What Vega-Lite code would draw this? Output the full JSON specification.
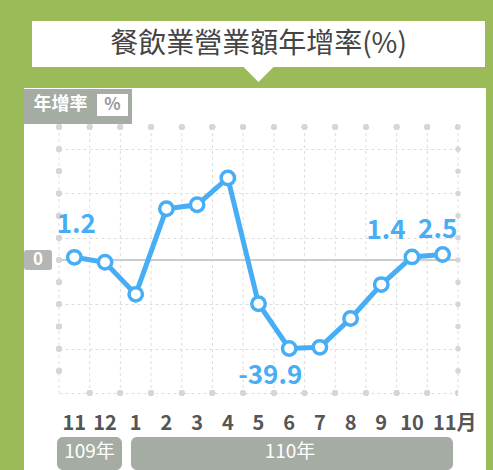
{
  "$schema": "https://vega.github.io/schema/vega-lite/v6.json",
  "background": "#9bbb59",
  "padding": {"left": 24, "top": 21, "right": 7, "bottom": 0},
  "config": {
    "view": {"stroke": null},
    "font": "Noto Sans CJK TC"
  },
  "datasets": {
    "months": [
      {"m": "109/11", "v": 1.2, "lbl": "11"},
      {"m": "109/12", "v": -1.0, "lbl": "12"},
      {"m": "110/01", "v": -15.5, "lbl": "1"},
      {"m": "110/02", "v": 23.1, "lbl": "2"},
      {"m": "110/03", "v": 24.9, "lbl": "3"},
      {"m": "110/04", "v": 37.0, "lbl": "4"},
      {"m": "110/05", "v": -19.7, "lbl": "5"},
      {"m": "110/06", "v": -39.9, "lbl": "6"},
      {"m": "110/07", "v": -39.4, "lbl": "7"},
      {"m": "110/08", "v": -26.4, "lbl": "8"},
      {"m": "110/09", "v": -11.1, "lbl": "9"},
      {"m": "110/10", "v": 1.4, "lbl": "10"},
      {"m": "110/11", "v": 2.5, "lbl": "11月"}
    ]
  },
  "spacing": 0,
  "vconcat": [
    {
      "spacing": 0,
      "hconcat": [
        {
          "width": 8, "height": 46,
          "data": {"values": [{}]},
          "mark": {"type": "point", "opacity": 0},
          "encoding": {}
        },
        {
          "width": 453, "height": 46,
          "view": {"fill": "white", "stroke": null},
          "data": {"values": [{"t": "餐飲業營業額年增率(%)"}]},
          "layer": [
            {
              "mark": {"type": "text", "fontSize": 28, "color": "#444444", "baseline": "middle", "align": "center", "yOffset": 1},
              "encoding": {"text": {"field": "t", "type": "nominal"}}
            },
            {
              "mark": {"type": "point", "shape": "M-1,0L1,0L0,1Z", "size": 900, "filled": true, "fill": "white", "stroke": null, "opacity": 1, "yOffset": 23},
              "encoding": {}
            }
          ]
        }
      ]
    },
    {
      "width": 462, "height": 6,
      "data": {"values": [{}]},
      "mark": {"type": "point", "opacity": 0},
      "encoding": {}
    },
    {
      "spacing": 0,
      "hconcat": [
        {
          "width": 73, "height": 36,
          "view": {"fill": "white", "stroke": null},
          "data": {"values": [{"t": "年增率"}]},
          "layer": [
            {"mark": {"type": "rect", "color": "#a4aca4", "yOffset": 1, "y2Offset": -6}, "encoding": {}},
            {"mark": {"type": "text", "fontSize": 18, "fontWeight": "bold", "color": "white", "baseline": "middle", "align": "center", "yOffset": -1}, "encoding": {"text": {"field": "t", "type": "nominal"}}}
          ]
        },
        {
          "width": 35, "height": 36,
          "view": {"fill": "white", "stroke": null},
          "data": {"values": [{"t": "%"}]},
          "layer": [
            {"mark": {"type": "rect", "color": "#a4aca4", "yOffset": 1, "y2Offset": -6}, "encoding": {}},
            {"mark": {"type": "point", "shape": "M-1,-0.71H1V0.71H-1Z", "size": 961, "filled": true, "fill": "white", "stroke": null, "opacity": 1, "xOffset": -2, "yOffset": -1}, "encoding": {}},
            {"mark": {"type": "text", "fontSize": 17, "fontWeight": "bold", "color": "#9a9a9a", "baseline": "middle", "align": "center", "xOffset": -2, "yOffset": -1}, "encoding": {"text": {"field": "t", "type": "nominal"}}}
          ]
        },
        {
          "width": 354, "height": 36,
          "view": {"fill": "white", "stroke": null},
          "data": {"values": [{}]},
          "mark": {"type": "point", "opacity": 0},
          "encoding": {}
        }
      ]
    },
    {
      "spacing": 0,
      "bounds": "flush",
      "hconcat": [
        {
          "width": 35, "height": 272,
          "view": {"fill": "white", "stroke": null},
          "data": {"values": [{"t": "0"}]},
          "layer": [
            {
              "mark": {"type": "point", "shape": "M-0.8,-0.714H0.8Q1,-0.714,1,-0.514V0.514Q1,0.714,0.8,0.714H-0.8Q-1,0.714,-1,0.514V-0.514Q-1,-0.714,-0.8,-0.714Z", "size": 784, "filled": true, "fill": "#b5b5b5", "stroke": null, "opacity": 1, "xOffset": -3.5},
              "encoding": {"y": {"datum": 0, "type": "quantitative", "scale": {"domain": [-60, 60], "nice": false, "zero": false, "padding": 3}, "axis": null}}
            },
            {
              "mark": {"type": "text", "fontSize": 17, "fontWeight": "bold", "color": "white", "baseline": "middle", "align": "center", "xOffset": -3.5},
              "encoding": {
                "y": {"datum": 0, "type": "quantitative", "axis": null},
                "text": {"field": "t", "type": "nominal"}
              }
            }
          ]
        },
        {
          "width": 399, "height": 272,
          "view": {"fill": "white", "stroke": null},
          "data": {"name": "months"},
          "layer": [
            {
              "mark": {"type": "rule", "color": "#dddddd", "strokeWidth": 1, "strokeDash": [3, 3]},
              "encoding": {
                "x": {
                  "field": "m", "type": "nominal", "sort": null, "bandPosition": 0,
                  "scale": {"type": "band", "domain": ["109/11","109/12","110/01","110/02","110/03","110/04","110/05","110/06","110/07","110/08","110/09","110/10","110/11"], "paddingInner": 0, "paddingOuter": 0},
                  "axis": null
                },
                "y": {"datum": 60, "type": "quantitative", "scale": {"domain": [-60, 60], "nice": false, "zero": false, "padding": 3}},
                "y2": {"datum": -60}
              }
            },
            {
              "mark": {"type": "rule", "color": "#cccccc", "strokeWidth": 2},
              "encoding": {"y": {"datum": 0, "type": "quantitative"}}
            },
            {
              "mark": {"type": "line", "color": "#47aef5", "strokeWidth": 5},
              "encoding": {
                "x": {"field": "m", "type": "nominal", "sort": null, "axis": null},
                "y": {
                  "field": "v", "type": "quantitative",
                  "axis": {"orient": "right", "title": null, "labels": false, "ticks": false, "grid": true,
                    "values": [-60, -50, -40, -30, -20, -10, 10, 20, 30, 40, 50, 60],
                    "gridColor": "#dddddd", "gridDash": [3, 3], "gridWidth": 1,
                    "domain": false, "minExtent": 0, "maxExtent": 0}
                }
              }
            },
            {
              "mark": {"type": "rule", "color": "#d6d6d6", "strokeWidth": 5.5, "strokeCap": "round", "strokeDash": [0.01, 30.69]},
              "encoding": {"y": {"datum": 60, "type": "quantitative"}}
            },
            {
              "mark": {"type": "rule", "color": "#d6d6d6", "strokeWidth": 5.5, "strokeCap": "round", "strokeDash": [0.01, 30.69]},
              "encoding": {"y": {"datum": -60, "type": "quantitative"}}
            },
            {
              "mark": {"type": "rule", "color": "#d6d6d6", "strokeWidth": 5.5, "strokeCap": "round", "strokeDash": [0.01, 22.16]},
              "encoding": {
                "x": {"datum": "109/11", "type": "nominal", "bandPosition": 0, "axis": null},
                "y": {"datum": 60, "type": "quantitative"},
                "y2": {"datum": -60}
              }
            },
            {
              "mark": {"type": "point", "filled": true, "fill": "white", "stroke": "#47aef5", "strokeWidth": 3.5, "size": 180, "opacity": 1},
              "encoding": {
                "x": {"field": "m", "type": "nominal", "sort": null, "axis": null},
                "y": {"field": "v", "type": "quantitative"}
              }
            },
            {
              "transform": [{"filter": "datum.m == '109/11'"}],
              "mark": {"type": "text", "fontSize": 26, "fontWeight": "bold", "color": "#47aef5", "baseline": "middle", "dx": 2, "dy": -32},
              "encoding": {
                "x": {"field": "m", "type": "nominal", "sort": null, "axis": null},
                "y": {"field": "v", "type": "quantitative"},
                "text": {"field": "v", "type": "nominal"}
              }
            },
            {
              "transform": [{"filter": "datum.m == '110/11'"}],
              "mark": {"type": "text", "fontSize": 26, "fontWeight": "bold", "color": "#47aef5", "baseline": "middle", "dx": -5, "dy": -24},
              "encoding": {
                "x": {"field": "m", "type": "nominal", "sort": null, "axis": null},
                "y": {"field": "v", "type": "quantitative"},
                "text": {"field": "v", "type": "nominal"}
              }
            },
            {
              "transform": [{"filter": "datum.m == '110/10'"}],
              "mark": {"type": "text", "fontSize": 26, "fontWeight": "bold", "color": "#47aef5", "baseline": "middle", "dx": -26, "dy": -26},
              "encoding": {
                "x": {"field": "m", "type": "nominal", "sort": null, "axis": null},
                "y": {"field": "v", "type": "quantitative"},
                "text": {"field": "v", "type": "nominal"}
              }
            },
            {
              "transform": [{"filter": "datum.m == '110/06'"}],
              "mark": {"type": "text", "fontSize": 26, "fontWeight": "bold", "color": "#47aef5", "baseline": "middle", "dx": -19, "dy": 28},
              "encoding": {
                "x": {"field": "m", "type": "nominal", "sort": null, "axis": null},
                "y": {"field": "v", "type": "quantitative"},
                "text": {"field": "v", "type": "nominal"}
              }
            }
          ]
        },
        {
          "width": 28, "height": 272,
          "view": {"fill": "white", "stroke": null},
          "data": {"values": [{}]},
          "layer": [
            {
              "mark": {"type": "rule", "color": "#dddddd", "strokeWidth": 1, "strokeDash": [3, 3]},
              "encoding": {
                "x": {"datum": "edge", "type": "nominal", "bandPosition": 0, "scale": {"type": "band", "domain": ["edge"], "paddingInner": 0, "paddingOuter": 0}, "axis": null},
                "y": {"datum": 60, "type": "quantitative", "scale": {"domain": [-60, 60], "nice": false, "zero": false, "padding": 3}, "axis": null},
                "y2": {"datum": -60}
              }
            },
            {
              "mark": {"type": "rule", "color": "#d6d6d6", "strokeWidth": 5.5, "strokeCap": "round", "strokeDash": [0.01, 22.16]},
              "encoding": {
                "x": {"datum": "edge", "type": "nominal", "bandPosition": 0, "axis": null},
                "y": {"datum": 60, "type": "quantitative", "axis": null},
                "y2": {"datum": -60}
              }
            }
          ]
        }
      ]
    },
    {
      "spacing": 0,
      "bounds": "flush",
      "hconcat": [
        {
          "width": 35, "height": 41,
          "view": {"fill": "white", "stroke": null},
          "data": {"values": [{}]},
          "mark": {"type": "point", "opacity": 0},
          "encoding": {}
        },
        {
          "width": 399, "height": 41,
          "view": {"fill": "white", "stroke": null},
          "data": {"name": "months"},
          "transform": [{"filter": "datum.m != '110/11'"}],
          "mark": {"type": "text", "fontSize": 20, "fontWeight": "bold", "color": "#555555", "baseline": "middle", "align": "center", "yOffset": 7.5},
          "encoding": {
            "x": {"field": "m", "type": "nominal", "sort": null,
              "scale": {"type": "band", "domain": ["109/11","109/12","110/01","110/02","110/03","110/04","110/05","110/06","110/07","110/08","110/09","110/10","110/11"], "paddingInner": 0, "paddingOuter": 0},
              "axis": null},
            "text": {"field": "lbl", "type": "nominal"}
          }
        },
        {
          "width": 28, "height": 41,
          "view": {"fill": "white", "stroke": null},
          "data": {"name": "months"},
          "transform": [{"filter": "datum.m == '110/11'"}],
          "mark": {"type": "text", "fontSize": 20, "fontWeight": "bold", "color": "#555555", "baseline": "middle", "align": "left", "xOffset": -39, "yOffset": 7.5},
          "encoding": {"text": {"field": "lbl", "type": "nominal"}}
        }
      ]
    },
    {
      "spacing": 0,
      "hconcat": [
        {
          "width": 33, "height": 33,
          "view": {"fill": "white", "stroke": null},
          "data": {"values": [{}]},
          "mark": {"type": "point", "opacity": 0},
          "encoding": {}
        },
        {
          "width": 65, "height": 33,
          "view": {"fill": "white", "stroke": null},
          "data": {"values": [{"t": "109年"}]},
          "layer": [
            {"mark": {"type": "rect", "color": "#a4aca4", "cornerRadius": 6, "y2Offset": -3}, "encoding": {}},
            {"mark": {"type": "text", "fontSize": 19, "color": "white", "baseline": "middle", "align": "center", "yOffset": -1.5}, "encoding": {"text": {"field": "t", "type": "nominal"}}}
          ]
        },
        {
          "width": 9, "height": 33,
          "view": {"fill": "white", "stroke": null},
          "data": {"values": [{}]},
          "mark": {"type": "point", "opacity": 0},
          "encoding": {}
        },
        {
          "width": 322, "height": 33,
          "view": {"fill": "white", "stroke": null},
          "data": {"values": [{"t": "110年"}]},
          "layer": [
            {"mark": {"type": "rect", "color": "#a4aca4", "cornerRadius": 6, "y2Offset": -3}, "encoding": {}},
            {"mark": {"type": "text", "fontSize": 19, "color": "white", "baseline": "middle", "align": "center", "yOffset": -1.5, "xOffset": -2}, "encoding": {"text": {"field": "t", "type": "nominal"}}}
          ]
        },
        {
          "width": 33, "height": 33,
          "view": {"fill": "white", "stroke": null},
          "data": {"values": [{}]},
          "mark": {"type": "point", "opacity": 0},
          "encoding": {}
        }
      ]
    }
  ]
}
